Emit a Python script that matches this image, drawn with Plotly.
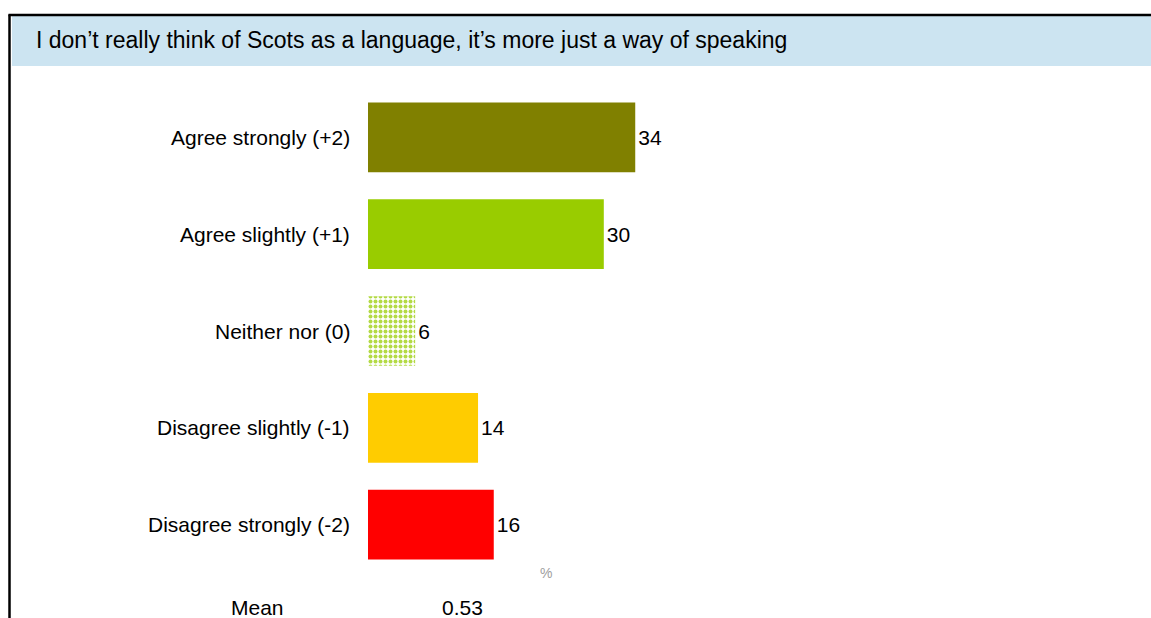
import plotly.graph_objects as go

# Survey responses (%)
categories = ["Agree strongly (+2)", "Agree slightly (+1)", "Neither nor (0)",
              "Disagree slightly (-1)", "Disagree strongly (-2)"]
values = [34, 30, 6, 14, 16]
colors = ["#808000", "#99CC00", "#B3DA45", "#FFCC00", "#FF0000"]
dotted = [False, False, True, False, False]
title_text = "I don\u2019t really think of Scots as a language, it\u2019s more just a way of speaking"
mean_label = "Mean"
mean_value = "0.53"
unit_label = "%"

W, H = 1151, 618
L, T, B = 368, 89, 45
plot_w = W - L
plot_h = H - T - B
px_per_unit = 7.86

def px_x(p):
    return (p - L) / plot_w

def px_y(p):
    return (H - B - p) / plot_h

FONT = "Liberation Sans, Arial, sans-serif"

fig = go.Figure()
for cat, val, col, dot in zip(categories, values, colors, dotted):
    marker = dict(color=col, line=dict(width=0))
    if dot:
        # neutral answer drawn as a dotted fill
        marker["pattern"] = dict(shape=".", fgcolor=col, bgcolor="#FFFFFF",
                                 fillmode="replace", size=5, solidity=0.5)
    fig.add_trace(go.Bar(
        x=[val], y=[cat], orientation="h", marker=marker,
        text=[str(val)], textposition="outside",
        textfont=dict(family=FONT, size=21, color="#000000"),
        cliponaxis=False, hoverinfo="skip",
    ))

annotations = []
for c in categories:
    annotations.append(dict(x=px_x(352), y=c, xref="paper", yref="y", text=c,
                            showarrow=False, xanchor="right", yanchor="middle",
                            font=dict(family=FONT, size=21, color="#000000")))
annotations += [
    dict(x=px_x(34), y=px_y(40), xref="paper", yref="paper", text=title_text,
         showarrow=False, xanchor="left", yanchor="middle",
         font=dict(family=FONT, size=23, color="#000000")),
    dict(x=px_x(546), y=px_y(573), xref="paper", yref="paper", text=unit_label,
         showarrow=False, xanchor="center", yanchor="middle",
         font=dict(family=FONT, size=14, color="#A0A0A0")),
    dict(x=px_x(257), y=px_y(607), xref="paper", yref="paper", text=mean_label,
         showarrow=False, xanchor="center", yanchor="middle",
         font=dict(family=FONT, size=21, color="#000000")),
    dict(x=px_x(462), y=px_y(607), xref="paper", yref="paper", text=mean_value,
         showarrow=False, xanchor="center", yanchor="middle",
         font=dict(family=FONT, size=21, color="#000000")),
]

shapes = [
    # title band
    dict(type="rect", xref="paper", yref="paper", x0=px_x(12), x1=px_x(1160),
         y0=px_y(66), y1=px_y(16), fillcolor="#CCE4F1", line=dict(width=0), layer="below"),
    # frame
    dict(type="line", xref="paper", yref="paper", x0=px_x(9.5), x1=px_x(9.5),
         y0=px_y(14.5), y1=px_y(640), line=dict(color="#000000", width=2.5)),
    dict(type="line", xref="paper", yref="paper", x0=px_x(8.5), x1=px_x(1170),
         y0=px_y(15), y1=px_y(15), line=dict(color="#000000", width=2.5)),
]

fig.update_layout(
    width=W, height=H,
    margin=dict(l=L, r=0, t=T, b=B, pad=0),
    paper_bgcolor="#FFFFFF", plot_bgcolor="#FFFFFF",
    showlegend=False,
    barmode="overlay",
    bargap=0.28,
    xaxis=dict(range=[0, plot_w / px_per_unit], visible=False, fixedrange=True),
    yaxis=dict(categoryorder="array", categoryarray=categories[::-1],
               showticklabels=False, showgrid=False, zeroline=False, showline=False,
               fixedrange=True),
    annotations=annotations,
    shapes=shapes,
    font=dict(family=FONT),
)

fig.write_html("out.html")
